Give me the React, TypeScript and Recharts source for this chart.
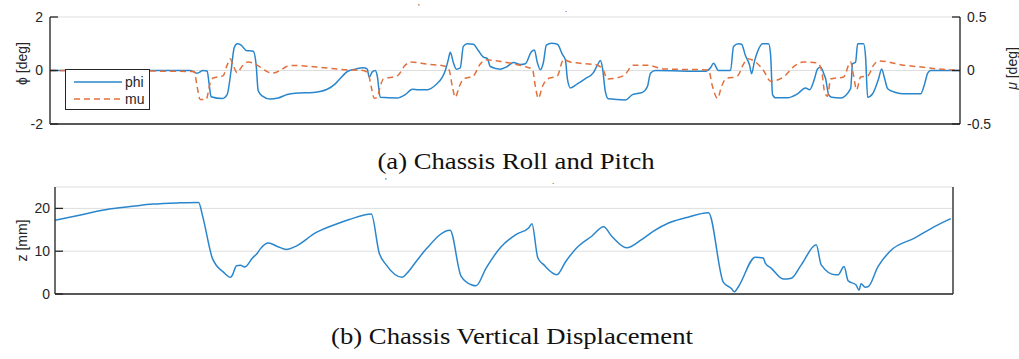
import React from 'react';
import { LineChart, Line, XAxis, YAxis, CartesianGrid, Legend } from 'recharts';

// ---------- data ----------
const timeTicks = [0, 10, 20, 30, 40, 50, 60, 70, 80, 90];
const phiTicks = [-2, 0, 2];
const muTicks = [-0.5, 0, 0.5];
const zTicks = [0, 10, 20];

const phiTime = [0, 14.14, 14.85, 15.45, 15.86, 16.06, 16.26, 17.37, 17.88, 18.28, 18.59, 18.89, 19.29, 19.8, 20.51, 20.81, 21.01, 21.41, 22.22, 23.03, 23.94, 24.75, 26.57, 27.98, 28.79, 29.29, 30.1, 30.81, 31.62, 32.02, 32.22, 32.53, 32.83, 33.03, 33.33, 35.05, 35.86, 36.57, 37.17, 38.08, 38.89, 39.6, 39.9, 40.2, 40.4, 40.71, 41.01, 41.41, 41.72, 42.12, 42.73, 43.23, 43.74, 44.14, 44.44, 45.45, 46.16, 46.77, 47.47, 47.98, 48.59, 48.89, 49.19, 49.49, 49.8, 50.1, 50.61, 51.21, 51.72, 52.02, 52.22, 52.53, 53.23, 54.04, 54.85, 55.25, 55.56, 55.76, 56.06, 56.36, 58.08, 58.79, 59.8, 60.3, 60.61, 61.11, 66.16, 66.67, 66.97, 67.47, 68.69, 68.99, 69.49, 69.8, 70.2, 70.61, 70.81, 71.11, 71.41, 71.92, 72.53, 72.73, 72.93, 73.23, 74.44, 75.45, 76.26, 76.67, 77.17, 77.47, 77.78, 78.08, 78.28, 78.59, 78.89, 79.8, 80.81, 81.01, 81.31, 81.52, 82.12, 82.32, 82.53, 83.03, 83.64, 83.94, 84.24, 84.55, 85.35, 86.16, 87.88, 88.28, 88.59, 88.89, 91.9];
const phiValues = [0, 0, -0.1, 0, -0.02, -0.5, -0.98, -1.05, -0.9, 0, 0.85, 1.0, 0.95, 0.75, 0.72, 0.2, -0.75, -0.95, -1.07, -1.03, -0.9, -0.85, -0.82, -0.7, -0.5, -0.3, -0.02, 0.05, 0.1, 0.05, -0.25, -0.05, 0, -0.2, -1.0, -1.03, -0.9, -0.7, -0.72, -0.72, -0.55, -0.25, 0, 0.4, 0.68, 0.3, 0.05, 0.1, 0.9, 1.0, 0.98, 0.75, 0.5, 0.45, 0.15, 0.05, 0.15, 0.3, 0.22, 0.25, 0.7, 0.77, 0.3, 0.03, 0.3, 0.95, 1.02, 0.98, 0.6, 0.4, -0.3, -0.65, -0.5, -0.3, -0.08, 0.2, 0.37, 0.1, -0.8, -1.06, -1.1, -0.9, -0.82, -0.6, -0.1, 0, -0.03, 0.1, 0.27, 0, 0, 0.9, 1.0, 0.98, 0.55, 0.2, -0.12, 0.35, 0.7, 1.0, 1.0, 0.6, -0.9, -1.02, -1.02, -0.87, -0.65, -0.72, -0.3, 0.06, 0.12, -0.1, -0.3, -0.9, -1.0, -1.03, -0.68, 0.25, 0.31, 1.0, 1.0, 0.5, -1.0, -0.87, -0.3, 0.06, -0.3, -0.68, -0.82, -0.87, -0.87, -0.5, -0.1, 0, 0];

const muTime = [0, 14.55, 14.85, 15.15, 15.76, 16.16, 16.46, 17.47, 17.88, 18.18, 18.48, 18.89, 19.39, 20.0, 20.91, 21.72, 22.42, 23.23, 23.94, 24.55, 27.27, 30.0, 31.62, 32.12, 32.42, 32.73, 33.03, 33.33, 33.64, 35.05, 35.86, 36.36, 38.08, 39.9, 40.3, 40.61, 40.91, 41.31, 41.72, 42.73, 43.43, 43.94, 45.76, 48.18, 48.69, 48.99, 49.29, 49.7, 50.2, 51.21, 51.82, 52.53, 55.25, 55.86, 56.26, 57.88, 58.89, 60.3, 61.92, 66.46, 66.87, 67.37, 67.78, 68.18, 69.39, 70.0, 70.4, 71.21, 72.02, 72.73, 74.04, 75.25, 76.06, 77.47, 77.88, 78.18, 78.48, 78.79, 80.1, 80.81, 81.11, 81.41, 81.82, 82.53, 83.13, 83.64, 86.16, 88.18, 89.6, 91.9];
const muValues = [0, -0.01, -0.15, -0.27, -0.27, -0.12, -0.07, -0.05, 0.05, 0.11, 0.05, -0.02, 0.04, 0.08, 0.05, 0.0, -0.025, 0.0, 0.04, 0.047, 0.03, 0.006, 0.0, -0.03, -0.15, -0.26, -0.25, -0.15, -0.08, -0.05, 0.05, 0.08, 0.06, 0.04, 0.0, -0.15, -0.25, -0.15, -0.08, -0.05, 0.06, 0.1, 0.08, 0.03, 0.015, -0.15, -0.26, -0.15, -0.08, -0.05, 0.1, 0.08, 0.05, 0.0, -0.08, -0.05, 0.05, 0.05, 0.015, 0.005, -0.15, -0.26, -0.15, -0.08, -0.05, 0.06, 0.11, 0.08, 0.0, -0.1, -0.06, 0.05, 0.08, 0.07, 0.0, -0.2, -0.24, -0.08, -0.06, 0.08, -0.05, -0.18, -0.06, -0.05, 0.05, 0.09, 0.05, 0.03, 0.015, 0];

const zTime = [0, 2.86, 5.71, 7.96, 10.0, 12.76, 14.69, 15.1, 16.12, 16.53, 17.14, 17.96, 18.16, 18.57, 18.98, 19.39, 20.2, 20.71, 21.02, 21.84, 22.76, 23.67, 24.49, 26.73, 29.08, 30.1, 32.35, 33.16, 33.88, 35.51, 36.02, 36.94, 37.96, 40.41, 41.53, 42.65, 43.06, 44.08, 45.61, 47.14, 48.47, 48.78, 49.39, 50.0, 51.33, 52.24, 53.37, 54.9, 56.12, 56.94, 58.47, 60.0, 61.22, 62.76, 64.49, 66.84, 68.37, 69.18, 69.49, 69.9, 71.63, 72.45, 72.65, 73.27, 74.49, 75.31, 76.33, 77.86, 78.37, 79.8, 80.1, 80.71, 81.12, 81.94, 82.24, 82.45, 82.86, 83.16, 84.18, 85.41, 87.96, 90.0, 91.63];
const zValues = [17.2, 18.6, 19.9, 20.5, 21.0, 21.3, 21.4, 18.2, 8.2, 6.6, 5.3, 3.9, 4.5, 6.6, 6.7, 6.3, 8.4, 9.6, 10.6, 11.9, 11.1, 10.4, 11.0, 14.4, 16.6, 17.4, 18.7, 9.6, 6.8, 3.9, 4.9, 7.6, 10.5, 14.9, 4.2, 2.1, 1.9, 6.0, 11.0, 13.9, 15.5, 16.4, 8.4, 6.8, 4.5, 7.6, 10.8, 13.5, 15.7, 13.5, 10.8, 12.7, 14.7, 16.6, 17.8, 19.0, 2.7, 1.3, 0.5, 1.7, 8.6, 8.4, 7.2, 6.0, 3.5, 3.7, 6.8, 11.5, 6.8, 4.5, 4.5, 6.4, 3.1, 2.1, 0.9, 2.4, 1.6, 1.7, 6.4, 10.0, 13.1, 15.8, 17.6];

const seriesNames = ['phi', 'mu'];

// ---------- style ----------
const AX = '#262626';
const GRID = '#dedede';
const BLUE = '#2a86cc';
const ORANGE = '#e2703c';
const MU_DASH = '6 4';
const SANS = '"Liberation Sans", Arial, Helvetica, sans-serif';
const SERIF = '"Liberation Serif", "Times New Roman", serif';
const X_DOMAIN: [number, number] = [0, 91.85];

const phiData = phiTime.map((t, i) => ({ t, phi: phiValues[i] }));
const muData = muTime.map((t, i) => ({ t, mu: muValues[i] }));
const zData = zTime.map((t, i) => ({ t, z: zValues[i] }));

const axisLine = { stroke: AX, strokeWidth: 1.3 };
const tickLine = { stroke: AX, strokeWidth: 1.3 };
const tickText = { fill: AX, fontSize: 14, fontFamily: SANS };

const makeVLabel = (text: React.ReactNode, dx: number, dy: number) => (props: any) => {
  const vb = props.viewBox || { x: 0, y: 0, width: 0, height: 0 };
  const cx = vb.x + dx;
  const cy = vb.y + vb.height / 2 + dy;
  return (
    <text
      x={cx}
      y={cy}
      transform={`rotate(-90, ${cx}, ${cy})`}
      textAnchor="middle"
      dominantBaseline="central"
      fill={AX}
      fontSize={14}
      fontFamily={SANS}
    >
      {text}
    </text>
  );
};

const legendStyles = [
  { color: BLUE, dash: undefined as string | undefined },
  { color: ORANGE, dash: MU_DASH },
];

const LegendBox = () => (
  <div
    style={{
      width: 85,
      height: 41,
      boxSizing: 'border-box',
      border: `1.3px solid ${AX}`,
      background: '#fff',
    }}
  >
    <svg width={82} height={38} style={{ display: 'block' }}>
      {seriesNames.map((name, i) => (
        <g key={name}>
          <line
            x1={8}
            x2={56}
            y1={12 + i * 17}
            y2={12 + i * 17}
            stroke={legendStyles[i].color}
            strokeWidth={1.5}
            strokeDasharray={legendStyles[i].dash}
          />
          <text x={59} y={12 + i * 17} dy="0.35em" fontSize={14} fontFamily={SANS} fill={AX}>
            {name}
          </text>
        </g>
      ))}
    </svg>
  </div>
);

const Caption = ({ text, cx, top }: { text: string; cx: number; top: number }) => (
  <div
    style={{
      position: 'absolute',
      left: cx - 300,
      top,
      width: 600,
      textAlign: 'center',
      fontFamily: SERIF,
      fontSize: 23,
      lineHeight: '23px',
      color: '#111',
      transform: 'scaleX(1.16)',
      transformOrigin: 'center',
      whiteSpace: 'nowrap',
    }}
  >
    {text}
  </div>
);

const Speck = ({ ch, x, y }: { ch: string; x: number; y: number }) => (
  <div
    style={{
      position: 'absolute',
      left: x,
      top: y,
      height: 6,
      overflow: 'visible',
      fontFamily: SERIF,
      fontSize: 9,
      lineHeight: '6px',
      color: '#333',
    }}
  >
    {ch}
  </div>
);

export default function App() {
  return (
    <div
      style={{
        position: 'absolute',
        left: 0,
        top: 0,
        width: 1019,
        height: 359,
        background: '#fff',
        overflow: 'hidden',
        fontFamily: SANS,
      }}
    >
      <Speck ch="'" x={418} y={4} />
      <Speck ch="." x={565} y={6} />
      <Speck ch="'" x={385} y={178} />
      <Speck ch="." x={552} y={178} />

      {/* (a) roll and pitch */}
      <div style={{ position: 'absolute', left: 0, top: 0 }}>
        <LineChart width={1019} height={140} margin={{ top: 17, right: 0, bottom: 0, left: 0 }} style={{ fontFamily: SANS }}>
          <CartesianGrid xAxisId="b" yAxisId="L" stroke={GRID} strokeWidth={1} />
          <XAxis
            xAxisId="b"
            type="number"
            dataKey="t"
            domain={X_DOMAIN}
            ticks={timeTicks}
            allowDataOverflow
            height={16}
            axisLine={axisLine}
            tickLine={tickLine}
            tickSize={-8}
            tick={false}
          />
          <XAxis
            xAxisId="t"
            orientation="top"
            type="number"
            dataKey="t"
            domain={X_DOMAIN}
            ticks={timeTicks}
            allowDataOverflow
            height={0}
            axisLine={axisLine}
            tickLine={tickLine}
            tickSize={-8}
            tick={false}
          />
          <YAxis
            yAxisId="L"
            type="number"
            domain={[-2, 2]}
            ticks={phiTicks}
            allowDataOverflow
            width={50}
            axisLine={axisLine}
            tickLine={tickLine}
            tickSize={-8}
            tickMargin={15}
            tick={tickText}
            label={makeVLabel('ϕ [deg]', 21.5, -7)}
          />
          <YAxis
            yAxisId="R"
            orientation="right"
            type="number"
            domain={[-0.5, 0.5]}
            ticks={muTicks}
            allowDataOverflow
            width={59}
            axisLine={axisLine}
            tickLine={tickLine}
            tickSize={-8}
            tickMargin={15}
            tick={tickText}
            label={makeVLabel(
              <>
                <tspan fontStyle="italic">μ</tspan> [deg]
              </>,
              52,
              -2
            )}
          />
          <Line
            xAxisId="b"
            yAxisId="L"
            data={phiData}
            dataKey="phi"
            name={seriesNames[0]}
            type="monotone"
            stroke={BLUE}
            strokeWidth={1.5}
            dot={false}
            isAnimationActive={false}
          />
          <Line
            xAxisId="b"
            yAxisId="R"
            data={muData}
            dataKey="mu"
            name={seriesNames[1]}
            type="monotone"
            stroke={ORANGE}
            strokeWidth={1.5}
            strokeDasharray={MU_DASH}
            dot={false}
            isAnimationActive={false}
          />
          <Legend
            layout="horizontal"
            align="center"
            verticalAlign="middle"
            content={() => <LegendBox />}
            wrapperStyle={{ left: 65, top: 69, width: 85, height: 41, right: 'auto', bottom: 'auto' }}
          />
        </LineChart>
      </div>

      <Caption text="(a) Chassis Roll and Pitch" cx={516} top={150} />

      {/* (b) vertical displacement */}
      <div style={{ position: 'absolute', left: 0, top: 170 }}>
        <LineChart width={1019} height={140} margin={{ top: 17, right: 0, bottom: 0, left: 0 }} style={{ fontFamily: SANS }}>
          <CartesianGrid xAxisId="b" yAxisId="L" stroke={GRID} strokeWidth={1} />
          <XAxis
            xAxisId="b"
            type="number"
            dataKey="t"
            domain={X_DOMAIN}
            ticks={timeTicks}
            allowDataOverflow
            height={16}
            axisLine={axisLine}
            tickLine={tickLine}
            tickSize={-8}
            tick={false}
          />
          <XAxis
            xAxisId="t"
            orientation="top"
            type="number"
            dataKey="t"
            domain={X_DOMAIN}
            ticks={timeTicks}
            allowDataOverflow
            height={0}
            axisLine={axisLine}
            tickLine={tickLine}
            tickSize={-8}
            tick={false}
          />
          <YAxis
            yAxisId="L"
            type="number"
            domain={[0, 25]}
            ticks={zTicks}
            allowDataOverflow
            width={55}
            axisLine={axisLine}
            tickLine={tickLine}
            tickSize={-8}
            tickMargin={13}
            tick={tickText}
            label={makeVLabel('z [mm]', 22, 0)}
          />
          <YAxis
            yAxisId="R"
            orientation="right"
            type="number"
            domain={[0, 25]}
            ticks={zTicks}
            allowDataOverflow
            width={66}
            axisLine={axisLine}
            tickLine={tickLine}
            tickSize={-8}
            tick={false}
          />
          <Line
            xAxisId="b"
            yAxisId="L"
            data={zData}
            dataKey="z"
            name="z"
            type="monotone"
            stroke={BLUE}
            strokeWidth={1.5}
            dot={false}
            isAnimationActive={false}
          />
        </LineChart>
      </div>

      <Caption text="(b) Chassis Vertical Displacement" cx={512} top={325} />
    </div>
  );
}
